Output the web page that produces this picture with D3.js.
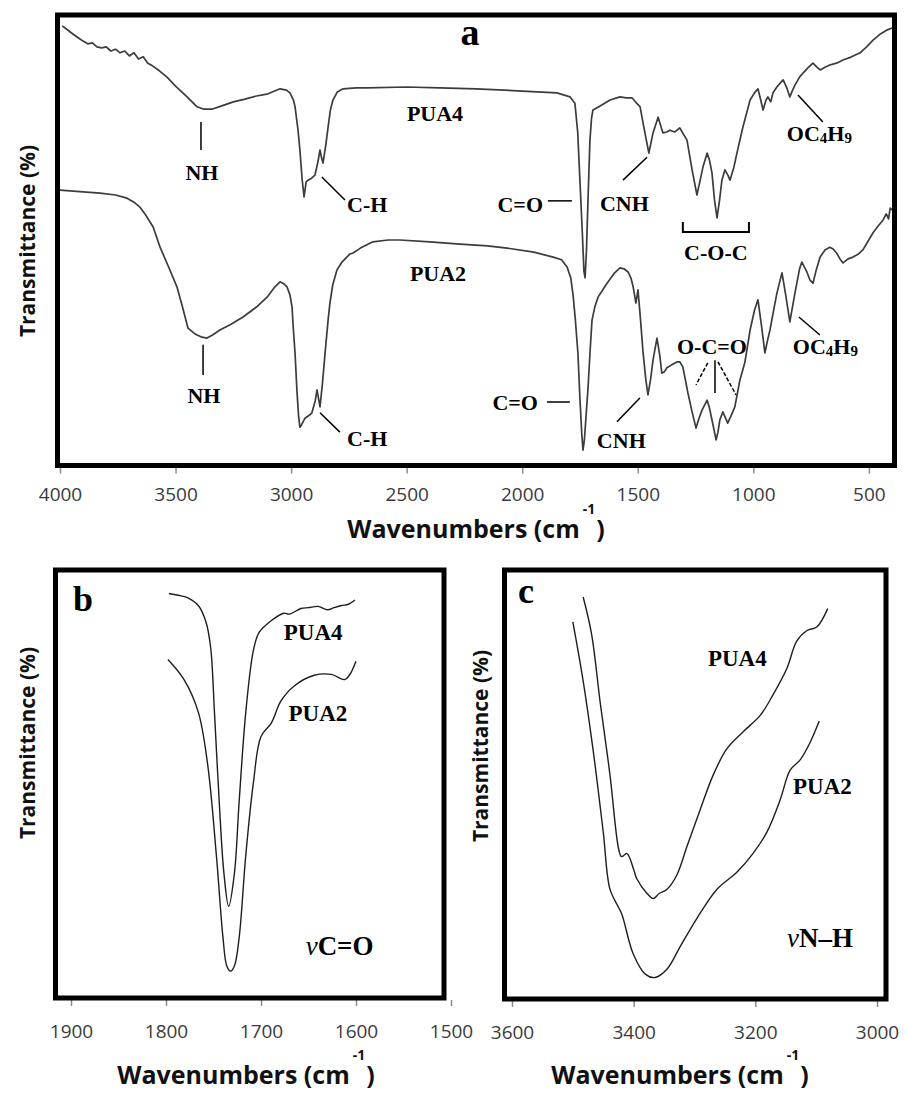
<!DOCTYPE html>
<html>
<head>
<meta charset="utf-8">
<script src="https://cdn.jsdelivr.net/npm/d3@7"></script>
<style>
  body { margin: 0; background: #fff; }
  svg { display: block; }
</style>
</head>
<body>
<svg id="chart" width="907" height="1096"></svg>
<script>
// ---------- panel a : full spectra (wavenumber, transmittance %) ----------
const wnA4 = [3990,3950,3920,3900,3880,3860,3840,3820,3800,3780,3760,3740,3720,3700,3680,3660,3640,3620,3600,3570,3537,3500,3450,3407,3380,3340,3300,3250,3200,3150,3105,3048,3020,3005,2990,2983,2970,2962,2952,2944,2935,2927,2910,2897,2885,2875,2868,2862,2850,2840,2830,2819,2800,2775,2720,2672,2500,2356,2200,2000,1850,1793,1772,1760,1750,1740,1733,1728,1722,1714,1707,1700,1694,1663,1620,1577,1550,1525,1505,1490,1469,1452,1434,1412,1391,1375,1361,1340,1318,1300,1287,1265,1244,1230,1218,1200,1190,1179,1168,1157,1146,1136,1123,1110,1101,1085,1071,1045,1014,995,980,968,958,945,937,925,915,895,871,855,842,830,820,800,785,765,742,725,711,690,669,640,612,575,538,510,482,450,420,400];
const tA4  = [97.6,96.0,94.9,94.2,93.6,93.8,92.9,92.7,92.9,92.0,92.4,91.6,92.0,90.9,91.6,90.2,90.7,89.3,88.7,87.6,86.2,84.2,81.8,79.6,79.1,79.1,79.8,80.7,81.3,82.0,82.4,83.6,83.3,82.7,81.1,79.6,74.4,70.0,63.3,59.6,62.9,63.3,63.8,64.4,67.1,70.0,68.2,67.1,71.1,75.1,78.9,81.1,82.9,83.6,83.8,83.8,84.0,83.8,83.6,83.1,82.7,81.8,80.4,74.0,62.9,51.7,43.1,41.6,47.8,61.1,72.2,77.1,78.9,79.8,81.1,81.8,81.6,81.6,80.4,79.6,73.8,69.3,73.8,77.3,73.8,74.0,74.4,74.0,74.9,73.3,72.2,65.6,60.0,63.3,66.2,69.3,67.8,64.9,58.9,54.9,58.9,63.3,65.6,64.4,63.3,66.0,69.3,75.1,81.1,82.7,83.6,81.1,78.9,81.1,81.8,80.7,82.7,84.2,85.6,83.8,81.8,83.3,84.4,86.2,87.1,88.2,89.3,88.4,87.8,88.4,88.9,89.3,90.0,90.7,91.6,92.9,94.4,95.8,96.7,97.1];

const wnA2 = [4000,3900,3827,3760,3710,3680,3654,3630,3597,3567,3530,3494,3470,3446,3420,3407,3385,3364,3340,3308,3260,3208,3150,3104,3070,3048,3030,3018,3005,2996,2990,2983,2975,2968,2962,2955,2940,2920,2910,2895,2888,2880,2875,2865,2853,2840,2832,2820,2802,2780,2759,2745,2732,2700,2646,2580,2529,2400,2269,2150,2066,1950,1866,1830,1806,1790,1780,1770,1759,1750,1742,1737,1731,1722,1715,1706,1698,1685,1672,1633,1600,1577,1560,1542,1530,1520,1508,1499,1488,1477,1465,1456,1445,1434,1417,1405,1396,1385,1374,1355,1331,1318,1305,1283,1265,1248,1235,1222,1200,1190,1179,1161,1153,1145,1132,1120,1111,1095,1080,1058,1037,1014,995,980,965,950,938,928,912,898,876,860,842,830,820,800,790,770,755,742,728,711,690,669,655,640,625,612,590,569,545,526,505,482,460,439,425,415,408,400];
const tA2  = [61.1,60.7,60.4,60.0,59.3,58.4,57.3,55.6,52.9,48.4,44.0,39.6,35.1,30.4,29.3,28.9,28.4,28.2,28.9,30.0,31.3,32.9,35.1,37.3,39.6,40.7,40.2,39.6,37.8,35.1,30.0,24.9,16.7,11.1,8.4,8.9,10.4,11.1,11.6,14.4,16.7,14.4,12.9,17.8,24.9,32.2,36.0,40.0,43.3,45.1,46.2,46.9,47.1,48.2,49.6,50.0,50.0,49.6,49.1,48.7,48.2,47.3,46.2,45.6,44.0,41.6,37.8,32.2,24.9,14.4,6.7,3.3,5.6,12.2,17.3,25.6,32.2,35.3,37.3,40.4,42.7,43.8,43.6,42.9,41.6,39.6,36.0,38.9,32.2,24.9,18.9,15.6,18.9,23.3,28.2,24.4,20.4,20.7,21.6,22.2,22.9,22.9,21.8,16.0,11.8,8.2,10.4,12.2,14.4,12.7,10.0,5.6,7.3,10.0,11.8,10.4,9.3,11.1,12.9,18.9,22.7,30.0,34.4,36.7,31.1,24.9,27.8,30.0,34.4,38.2,42.7,37.8,31.8,35.3,38.2,43.6,45.1,43.1,41.1,40.4,43.3,46.2,47.8,48.4,48.0,47.1,45.8,44.9,45.8,46.2,46.9,47.8,49.6,51.6,53.1,54.4,55.8,54.7,57.1,56.7];

const ticksA = [4000,3500,3000,2500,2000,1500,1000,500];

// ---------- panel b : C=O stretch ----------
const wnB4 = [1797,1785,1777,1766,1758,1753,1749,1744,1739,1734,1728,1723,1716,1708,1702,1689,1676,1670,1658,1650,1640,1630,1623,1615,1608,1601];
const tB4  = [94.5,94.0,93.5,91.7,87.9,81.9,66.8,45.9,29.1,21.4,29.1,45.9,66.8,81.2,85.4,88.2,89.9,89.7,91.0,91.2,91.5,90.7,91.2,91.7,92.0,93.0];
const wnB2 = [1798,1781,1766,1756,1747,1740,1736,1732,1728,1723,1716,1708,1700,1689,1679,1665,1644,1626,1612,1607,1600];
const tB2  = [79.1,74.4,66.8,54.3,33.4,14.1,7.5,6.3,7.5,14.1,33.4,50.3,61.1,64.3,69.4,72.9,75.4,75.6,74.4,75.4,78.7];
const ticksB = [1900,1800,1700,1600,1500];

// ---------- panel c : N-H stretch ----------
const wnC4 = [3483,3469,3455,3439,3425,3420,3411,3400,3395,3378,3368,3358,3345,3329,3312,3291,3269,3247,3220,3192,3171,3148,3132,3115,3099,3081];
const tC4  = [93.7,84.9,69.1,52.3,35.2,33.2,33.9,30.2,28.1,24.6,23.4,24.6,25.6,28.9,35.7,44.0,52.3,58.3,62.3,66.1,70.9,77.1,83.4,85.9,86.7,91.0];
const wnC2 = [3500,3483,3466,3450,3439,3425,3419,3401,3381,3365,3345,3324,3296,3263,3230,3204,3181,3159,3143,3126,3110,3095];
const tC2  = [87.9,74.1,57.3,38.9,25.6,21.4,19.6,10.6,5.8,5.0,7.0,12.1,18.8,25.6,29.6,33.9,38.9,46.5,53.3,55.8,59.8,64.8];
const ticksC = [3600,3400,3200,3000];

// annotation anchors in data units [wavenumber, transmittance]
const notesA = [
  ["a", 2226, 93.3, "middle"],
  ["PUA4", 2499, 76.4, "start"], ["PUA2", 2486, 40.9, "start"],
  ["NH", 3386, 63.3, "middle"], ["NH", 3377, 13.8, "middle"],
  ["C-H", 2758, 56.2, "start"], ["C-H", 2758, 4.2, "start"],
  ["C=O", 1910, 56.2, "end"], ["C=O", 1932, 12.2, "end"],
  ["CNH", 1664, 56.4, "start"], ["CNH", 1677, 3.8, "start"],
  ["C-O-C", 1162, 45.6, "middle"], ["O-C=O", 1179, 24.7, "middle"],
  ["OC4H9", 855, 72.0, "start"], ["OC4H9", 829, 24.7, "start"]
];
const leadersA = [
  [3390,76.2,3390,70.0], [2867,64.0,2767,58.9], [1889,58.7,1785,58.7],
  [1564,63.3,1460,68.4], [807,82.2,699,76.2],
  [3381,26.7,3381,20.0], [2875,11.6,2789,7.3], [1893,14.0,1794,14.0],
  [1590,9.6,1491,14.9], [1166,23.3,1166,16.0], [803,32.9,712,28.9]
];
const dashedA = [[1197,22.7,1248,17.8], [1153,22.9,1075,15.6]];
const bracketA = [[1305,54.0],[1305,51.8],[1019,51.8],[1019,54.0]];
const notesB = [["b",1898,90.5],["PUA4",1676,83.7],["PUA2",1671,64.8],["νC=O",1653,10.1]];
const notesC = [["c",3590,92.2],["PUA4",3278,77.6],["PUA2",3138,47.7],["νN–H",3148,12.1]];

const svg = d3.select("#chart");
svg.append("rect").attr("width", 907).attr("height", 1096).attr("fill", "#fff");

const serif = "'Liberation Serif','Times New Roman',serif";
const sans = "'Open Sans','DejaVu Sans',sans-serif";

function panel(o) {
  const x = d3.scaleLinear().domain(o.xDomain).range(o.xRange);
  const y = d3.scaleLinear().domain([0, 100]).range(o.yRange);
  const g = svg.append("g");

  const ax = g.append("g")
    .attr("transform", `translate(0,${o.frame[3] + 2})`)
    .call(d3.axisBottom(x).tickValues(o.ticks).tickSize(6).tickPadding(o.pad).tickFormat(d3.format("d")));
  ax.select(".domain").remove();
  ax.selectAll(".tick line").attr("stroke", "#8a8a8a").attr("stroke-width", 1.5);
  ax.selectAll(".tick text").attr("font-family", sans).attr("font-size", 19).attr("fill", "#3a3a3a");

  const line = d3.line().x(d => x(d[0])).y(d => y(d[1])).curve(o.curve);
  o.series.forEach(s => {
    g.append("path").datum(d3.zip(s[0], s[1]))
      .attr("fill", "none").attr("stroke", o.stroke).attr("stroke-width", o.width)
      .attr("stroke-linejoin", "round").attr("d", line);
  });

  g.append("rect")
    .attr("x", o.frame[0]).attr("y", o.frame[1])
    .attr("width", o.frame[2] - o.frame[0]).attr("height", o.frame[3] - o.frame[1])
    .attr("fill", "none").attr("stroke", "#000").attr("stroke-width", 5);

  // axis titles
  const t = g.append("text").attr("x", o.title[0]).attr("y", o.title[1])
    .attr("text-anchor", "middle").attr("font-family", sans).attr("font-weight", "bold")
    .attr("font-size", 25).attr("fill", "#111");
  t.append("tspan").text("Wavenumbers (cm");
  t.append("tspan").attr("font-size", 14).attr("dy", -24).attr("dx", 3).text("-1");
  t.append("tspan").attr("dy", 24).attr("dx", 1).text(")");

  g.append("text")
    .attr("transform", `translate(${o.ylab[0]},${o.ylab[1]}) rotate(-90)`)
    .attr("text-anchor", "middle").attr("font-family", sans).attr("font-weight", "bold")
    .attr("font-size", 21).attr("fill", "#111").text("Transmittance (%)");

  return { g, x, y };
}

function label(g, x, y, txt, wn, tv, anchor, size) {
  const el = g.append("text").attr("x", x(wn)).attr("y", y(tv))
    .attr("text-anchor", anchor || "start").attr("font-family", serif)
    .attr("font-weight", "bold").attr("font-size", size).attr("fill", "#000");
  if (txt === "OC4H9") {
    el.append("tspan").text("OC");
    el.append("tspan").attr("font-size", size * 0.68).attr("dy", 2).text("4");
    el.append("tspan").attr("dy", -2).text("H");
    el.append("tspan").attr("font-size", size * 0.68).attr("dy", 2).text("9");
  } else if (txt[0] === "ν") {
    el.append("tspan").attr("font-style", "italic").attr("font-weight", "normal").text("ν");
    el.append("tspan").text(txt.slice(1));
  } else {
    el.text(txt);
  }
}

// panel a
const A = panel({
  xDomain: [4000, 400], xRange: [60, 892], yRange: [465, 15],
  frame: [57.5, 15, 894.5, 465.5], ticks: ticksA, pad: 14,
  series: [[wnA4, tA4], [wnA2, tA2]], stroke: "#3c3c3c", width: 1.7,
  curve: d3.curveLinear, title: [476, 538], ylab: [35, 241]
});
notesA.forEach(n => label(A.g, A.x, A.y, n[0], n[1], n[2], n[3], n[0] === "a" ? 38 : 22));
leadersA.forEach(l => A.g.append("line")
  .attr("x1", A.x(l[0])).attr("y1", A.y(l[1])).attr("x2", A.x(l[2])).attr("y2", A.y(l[3]))
  .attr("stroke", "#000").attr("stroke-width", 1.5));
dashedA.forEach(l => A.g.append("line")
  .attr("x1", A.x(l[0])).attr("y1", A.y(l[1])).attr("x2", A.x(l[2])).attr("y2", A.y(l[3]))
  .attr("stroke", "#000").attr("stroke-width", 1.5).attr("stroke-dasharray", "4,2"));
A.g.append("path")
  .attr("d", d3.line().x(d => A.x(d[0])).y(d => A.y(d[1]))(bracketA))
  .attr("fill", "none").attr("stroke", "#000").attr("stroke-width", 2);

// panel b
const B = panel({
  xDomain: [1900, 1500], xRange: [71, 451], yRange: [998, 570],
  frame: [55.5, 570, 444, 998], ticks: ticksB, pad: 19,
  series: [[wnB4, tB4], [wnB2, tB2]], stroke: "#1e1e1e", width: 1.4,
  curve: d3.curveCatmullRom, title: [246, 1084], ylab: [35, 743]
});
notesB.forEach(n => label(B.g, B.x, B.y, n[0], n[1], n[2], "start", n[0].length === 1 ? 36 : (n[0][0] === "ν" ? 27 : 23)));

// panel c
const C = panel({
  xDomain: [3600, 3000], xRange: [512, 877], yRange: [999, 570],
  frame: [504.5, 570, 886, 999], ticks: ticksC, pad: 19,
  series: [[wnC4, tC4], [wnC2, tC2]], stroke: "#1e1e1e", width: 1.4,
  curve: d3.curveCatmullRom, title: [680, 1084], ylab: [488, 746]
});
notesC.forEach(n => label(C.g, C.x, C.y, n[0], n[1], n[2], "start", n[0].length === 1 ? 36 : (n[0][0] === "ν" ? 27 : 23)));
</script>
</body>
</html>
